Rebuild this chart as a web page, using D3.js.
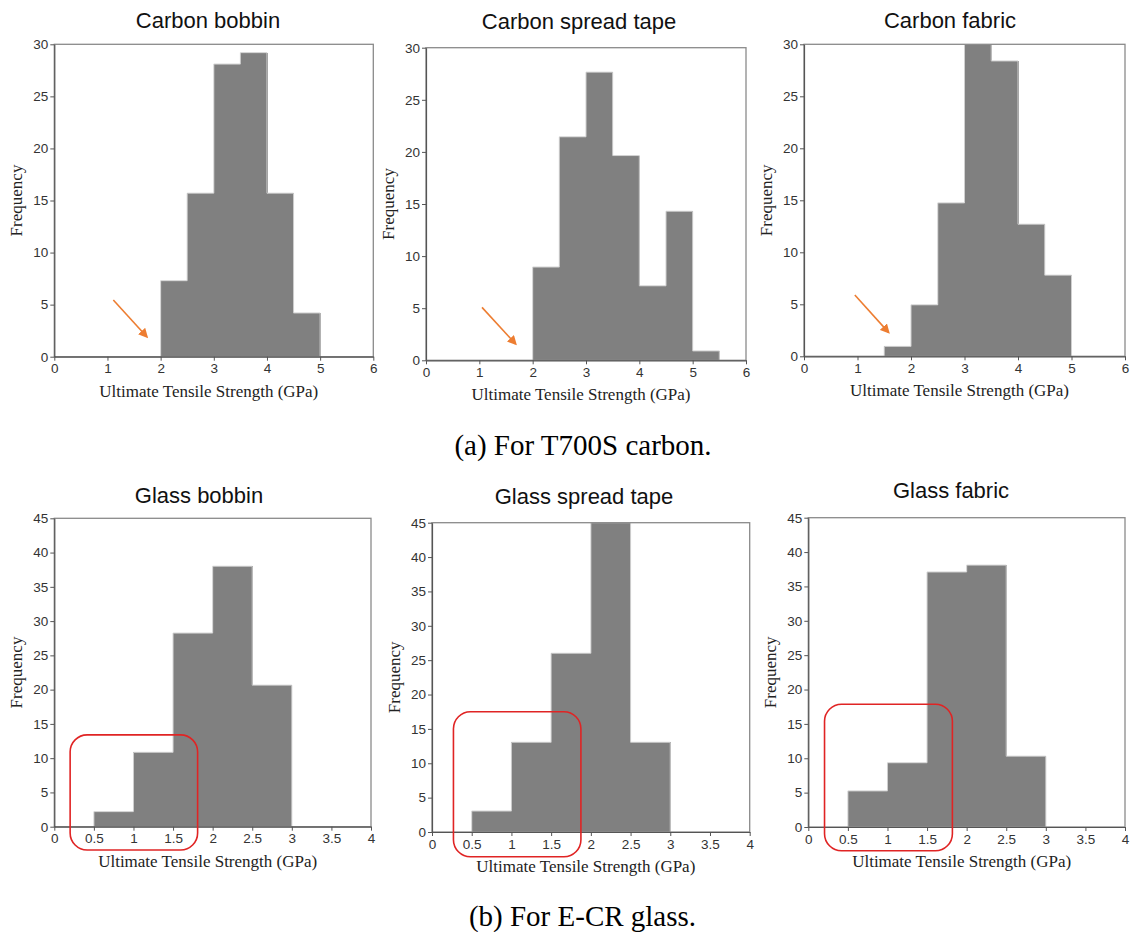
<!DOCTYPE html>
<html>
<head>
<meta charset="utf-8">
<script src="https://cdn.jsdelivr.net/npm/d3@7"></script>
<style>
  html, body { margin: 0; padding: 0; background: #fff; }
  svg { display: block; }
</style>
</head>
<body>
<svg id="chart" width="1131" height="932"></svg>
<script>
// ---------------- DATA ----------------
const binWidth = 0.5;

const carbonTicksX = [0, 1, 2, 3, 4, 5, 6];
const carbonTicksY = [0, 5, 10, 15, 20, 25, 30];
const glassTicksX = [0, 0.5, 1, 1.5, 2, 2.5, 3, 3.5, 4];
const glassTicksY = [0, 5, 10, 15, 20, 25, 30, 35, 40, 45];

const carbonBobbinBins = [2.0, 2.5, 3.0, 3.5, 4.0, 4.5];
const carbonBobbinFreq = [7.3, 15.7, 28.1, 29.2, 15.7, 4.2];

const carbonSpreadBins = [2.0, 2.5, 3.0, 3.5, 4.0, 4.5, 5.0];
const carbonSpreadFreq = [8.95, 21.45, 27.65, 19.65, 7.15, 14.3, 0.9];

const carbonFabricBins = [1.5, 2.0, 2.5, 3.0, 3.5, 4.0, 4.5];
const carbonFabricFreq = [0.95, 4.95, 14.75, 30, 28.4, 12.7, 7.8];

const glassBobbinBins = [0.5, 1.0, 1.5, 2.0, 2.5];
const glassBobbinFreq = [2.2, 10.85, 28.25, 38.0, 20.65];

const glassSpreadBins = [0.5, 1.0, 1.5, 2.0, 2.5];
const glassSpreadFreq = [3.05, 13.05, 26.0, 45, 13.05];

const glassFabricBins = [0.5, 1.0, 1.5, 2.0, 2.5];
const glassFabricFreq = [5.25, 9.35, 37.1, 38.1, 10.3];

const titles = ["Carbon bobbin", "Carbon spread tape", "Carbon fabric",
                "Glass bobbin", "Glass spread tape", "Glass fabric"];
const xLabel = "Ultimate Tensile Strength (GPa)";
const yLabel = "Frequency";
const captions = ["(a) For T700S carbon.", "(b) For E-CR glass."];

// annotation arrows (data coords: [x1, y1, x2, y2])
const carbonArrows = [
  [1.11, 5.45, 1.74, 1.92],
  [1.05, 5.08, 1.68, 1.57],
  [0.95, 5.9, 1.58, 2.3]
];
// highlight boxes (data coords: [x0, x1, yTop, yBottom])
const glassBoxes = [
  [0.2, 1.81, 13.4, -3.4],
  [0.27, 1.875, 17.5, -3.6],
  [0.205, 1.82, 17.85, -3.45]
];

// ---------------- LAYOUT ----------------
const panels = [
  { bins: carbonBobbinBins, freq: carbonBobbinFreq, xt: carbonTicksX, yt: carbonTicksY,
    box: [54.3, 373.3, 44.3, 356.7], title: [208, 28.3], arrow: carbonArrows[0] },
  { bins: carbonSpreadBins, freq: carbonSpreadFreq, xt: carbonTicksX, yt: carbonTicksY,
    box: [426, 746, 47.7, 360.3], title: [579, 29.3], arrow: carbonArrows[1] },
  { bins: carbonFabricBins, freq: carbonFabricFreq, xt: carbonTicksX, yt: carbonTicksY,
    box: [804, 1125, 44.3, 356.3], title: [950, 28.3], arrow: carbonArrows[2] },
  { bins: glassBobbinBins, freq: glassBobbinFreq, xt: glassTicksX, yt: glassTicksY,
    box: [54.3, 371, 518.3, 826.7], title: [199, 503.3], hl: glassBoxes[0] },
  { bins: glassSpreadBins, freq: glassSpreadFreq, xt: glassTicksX, yt: glassTicksY,
    box: [432, 749.7, 522.7, 832], title: [584, 504.3], hl: glassBoxes[1] },
  { bins: glassFabricBins, freq: glassFabricFreq, xt: glassTicksX, yt: glassTicksY,
    box: [808.3, 1125, 517.7, 827], title: [951, 498.3], hl: glassBoxes[2] }
];

const svg = d3.select("#chart");
const defs = svg.append("defs");
defs.append("marker")
  .attr("id", "arrowhead")
  .attr("viewBox", "0 0 10 10")
  .attr("refX", 8).attr("refY", 5)
  .attr("markerWidth", 6).attr("markerHeight", 6)
  .attr("markerUnits", "strokeWidth")
  .attr("orient", "auto")
  .append("path")
  .attr("d", "M0,0 L10,5 L0,10 z")
  .attr("fill", "#ED7D31");

const sansFont = "'Liberation Sans', Arial, sans-serif";
const serifFont = "'Liberation Serif', 'Times New Roman', serif";

panels.forEach((p, i) => {
  const [l, r, t, b] = p.box;
  const x = d3.scaleLinear().domain([p.xt[0], p.xt[p.xt.length - 1]]).range([l, r]);
  const y = d3.scaleLinear().domain([p.yt[0], p.yt[p.yt.length - 1]]).range([b, t]);
  const g = svg.append("g");

  defs.append("clipPath").attr("id", "clip" + i)
    .append("rect").attr("x", l).attr("y", t).attr("width", r - l).attr("height", b - t);

  const data = p.bins.map((s, k) => ({ s, f: p.freq[k] }));
  const barsG = g.append("g").attr("clip-path", `url(#clip${i})`);

  // bars
  barsG.selectAll("rect")
    .data(data)
    .join("rect")
    .attr("x", d => x(d.s))
    .attr("width", d => x(d.s + binWidth) - x(d.s) + 0.6)
    .attr("y", d => y(d.f))
    .attr("height", d => y(0) - y(d.f))
    .attr("fill", "#808080")
    .attr("shape-rendering", "crispEdges");

  // light outline of histogram envelope
  const pts = [[data[0].s, 0]];
  data.forEach(d => { pts.push([d.s, d.f]); pts.push([d.s + binWidth, d.f]); });
  pts.push([data[data.length - 1].s + binWidth, 0]);
  barsG.append("path")
    .attr("d", d3.line().x(d => x(d[0])).y(d => y(d[1]))(pts))
    .attr("fill", "none").attr("stroke", "#d0d0d0").attr("stroke-width", 1);

  // frame
  g.append("rect")
    .attr("x", l).attr("y", t).attr("width", r - l).attr("height", b - t)
    .attr("fill", "none").attr("stroke", "#8a8a8a").attr("stroke-width", 1.3);

  // axes
  const fmt = d => String(d);
  const xAxis = g.append("g").attr("transform", `translate(0,${b})`)
    .call(d3.axisBottom(x).tickValues(p.xt).tickFormat(fmt).tickSize(4).tickSizeOuter(0).tickPadding(3));
  const yAxis = g.append("g").attr("transform", `translate(${l},0)`)
    .call(d3.axisLeft(y).tickValues(p.yt).tickFormat(fmt).tickSize(4).tickSizeOuter(0).tickPadding(2));
  [xAxis, yAxis].forEach(ax => {
    ax.select(".domain").attr("stroke", "#555").attr("stroke-width", 1.2);
    ax.selectAll(".tick line").attr("stroke", "#555");
    ax.selectAll(".tick text").attr("fill", "#333")
      .style("font-family", sansFont).style("font-size", "13.5px");
  });

  // title
  g.append("text")
    .attr("x", p.title[0]).attr("y", p.title[1])
    .attr("text-anchor", "middle")
    .style("font-family", sansFont).style("font-size", "22px").attr("fill", "#111")
    .text(titles[i]);

  // x label
  g.append("text")
    .attr("x", (l + r) / 2 - 5).attr("y", b + 40)
    .attr("text-anchor", "middle")
    .style("font-family", serifFont).style("font-size", "17px").attr("fill", "#222")
    .text(xLabel);

  // y label
  g.append("text")
    .attr("transform", `translate(${l - 32},${(t + b) / 2}) rotate(-90)`)
    .attr("text-anchor", "middle")
    .style("font-family", serifFont).style("font-size", "17px").attr("fill", "#222")
    .text(yLabel);

  // annotations
  if (p.arrow) {
    const a = p.arrow;
    g.append("line")
      .attr("x1", x(a[0])).attr("y1", y(a[1]))
      .attr("x2", x(a[2])).attr("y2", y(a[3]))
      .attr("stroke", "#ED7D31").attr("stroke-width", 1.6)
      .attr("marker-end", "url(#arrowhead)");
  }
  if (p.hl) {
    const h = p.hl;
    g.append("rect")
      .attr("x", x(h[0])).attr("y", y(h[2]))
      .attr("width", x(h[1]) - x(h[0])).attr("height", y(h[3]) - y(h[2]))
      .attr("rx", 17).attr("ry", 17)
      .attr("fill", "none").attr("stroke", "#E02424").attr("stroke-width", 1.6);
  }
});

// captions
svg.append("text").attr("x", 583).attr("y", 455).attr("text-anchor", "middle")
  .style("font-family", serifFont).style("font-size", "29px").attr("fill", "#000")
  .text(captions[0]);
svg.append("text").attr("x", 582.5).attr("y", 926).attr("text-anchor", "middle")
  .style("font-family", serifFont).style("font-size", "29px").attr("fill", "#000")
  .text(captions[1]);
</script>
</body>
</html>
